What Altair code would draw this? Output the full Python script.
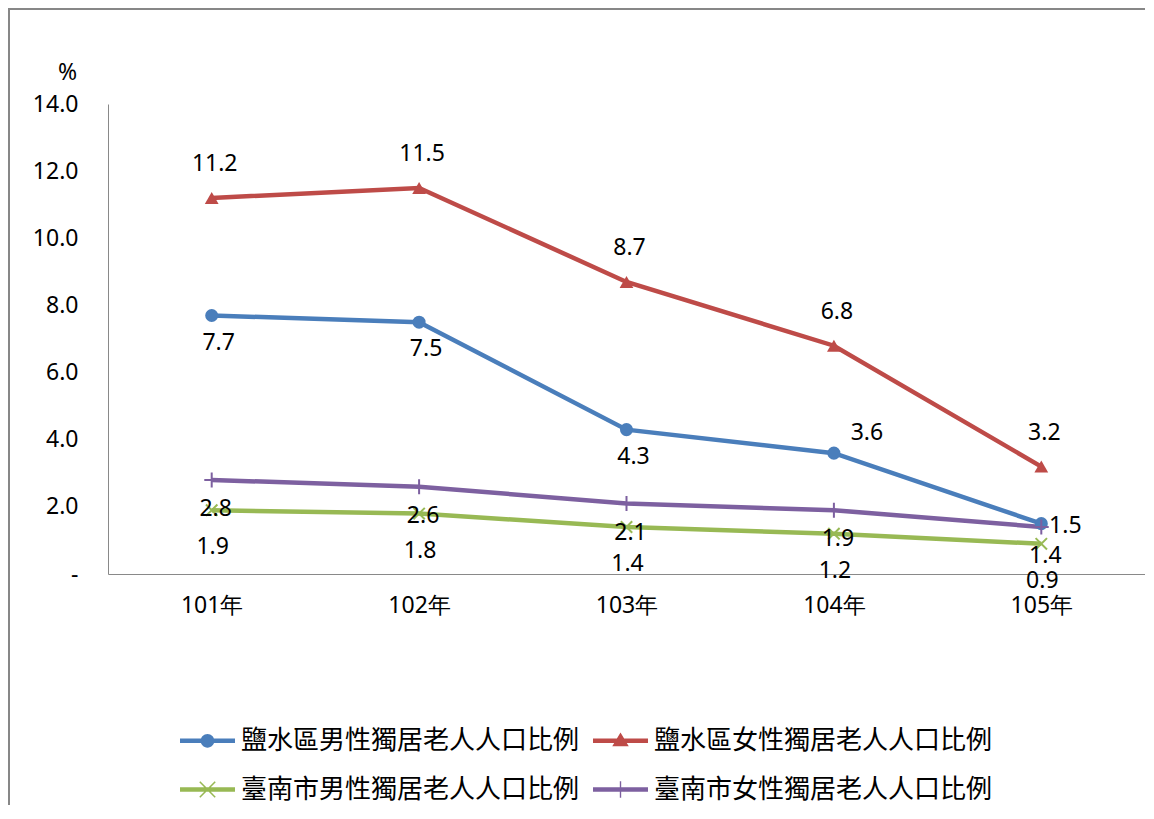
import altair as alt
import pandas as pd

# ---- data ----
years = ["101年", "102年", "103年", "104年", "105年"]
series_names = [
    "鹽水區男性獨居老人人口比例",
    "鹽水區女性獨居老人人口比例",
    "臺南市男性獨居老人人口比例",
    "臺南市女性獨居老人人口比例",
]
yanshui_male = [7.7, 7.5, 4.3, 3.6, 1.5]
yanshui_female = [11.2, 11.5, 8.7, 6.8, 3.2]
tainan_male = [1.9, 1.8, 1.4, 1.2, 0.9]
tainan_female = [2.8, 2.6, 2.1, 1.9, 1.4]
y_ticks = [0, 2, 4, 6, 8, 10, 12, 14]

colors = ["#4A7EBB", "#BE4B48", "#98B954", "#7D60A0"]

rows = []
for name, vals in zip(series_names, [yanshui_male, yanshui_female, tainan_male, tainan_female]):
    for yr, v in zip(years, vals):
        rows.append({"year": yr, "series": name, "value": v})
df = pd.DataFrame(rows)

FONT = "Noto Sans"
CJK = "Noto Sans CJK TC"
TXT = 23
NBSP = "\u00a0"

# legend symbols: a line segment with the series marker (unit square paths)
line_part = "M-1,-0.085L1,-0.085L1,0.085L-1,0.085Z"
legend_paths = [
    line_part + "M0.25,0A0.25,0.25 0 1,1 -0.25,0A0.25,0.25 0 1,1 0.25,0Z",
    line_part + "M0,-0.3L0.3,0.2L-0.3,0.2Z",
    line_part + "M-0.3,-0.26L-0.26,-0.3L0.3,0.26L0.26,0.3Z"
    + "M0.26,-0.3L0.3,-0.26L-0.26,0.3L-0.3,0.26Z",
    line_part + "M-0.025,-0.3L0.025,-0.3L0.025,0.3L-0.025,0.3Z",
]

x_enc = alt.X(
    "year:N",
    sort=years,
    scale=alt.Scale(type="point", padding=0.5),
    axis=alt.Axis(title=None, labelAngle=0, labelPadding=20, ticks=False),
)
y_enc = alt.Y(
    "value:Q",
    scale=alt.Scale(domain=[0, 14], nice=False, zero=True),
    axis=alt.Axis(
        values=y_ticks,
        labelExpr="datum.value == 0 ? '-" + NBSP + NBSP + "' : format(datum.value, '.1f')",
        labelPadding=30,
        ticks=False,
        title="%",
        titleAngle=0,
        titleX=-41,
        titleY=-32,
        titleAlign="center",
        titleBaseline="middle",
        titleFont=FONT,
        titleFontSize=TXT,
        titleFontWeight="normal",
        titleColor="#000",
    ),
)

base = alt.Chart(df).encode(x=x_enc, y=y_enc)

legend_opts = dict(
    title=None,
    orient="none",
    direction="horizontal",
    legendX=72,
    legendY=609,
    columns=2,
    columnPadding=13,
    rowPadding=8,
    symbolSize=3025,
    symbolStrokeWidth=0,
    labelFont=CJK,
    labelFontSize=26,
    labelColor="#000",
    labelLimit=600,
    labelOffset=6,
)

legend_layer = (
    alt.Chart(df)
    .transform_filter("datum.value < 0")
    .mark_point(filled=True, opacity=1)
    .encode(
        x=x_enc,
        y=y_enc,
        color=alt.Color(
            "series:N",
            scale=alt.Scale(domain=series_names, range=colors),
            legend=alt.Legend(**legend_opts),
        ),
        shape=alt.Shape(
            "series:N",
            scale=alt.Scale(domain=series_names, range=legend_paths),
            legend=alt.Legend(**legend_opts),
        ),
    )
)


def sel(name):
    return base.transform_filter(alt.datum.series == name)


line_layers = [
    sel(n).mark_line(strokeWidth=4.5, color=c) for n, c in zip(series_names, colors)
]

m_blue = sel(series_names[0]).mark_point(
    shape="circle", filled=True, size=170, color=colors[0], opacity=1
)
m_red = sel(series_names[1]).mark_point(
    shape="triangle-up", filled=True, size=190, color=colors[1], opacity=1
)
m_green = sel(series_names[2]).mark_point(
    shape="M-1,-1L1,1M-1,1L1,-1", filled=False, size=130, color=colors[2],
    strokeWidth=2, opacity=1
)
m_purple = sel(series_names[3]).mark_point(
    shape="M0,-1L0,1M-1,0L1,0", filled=False, size=220, color=colors[3],
    strokeWidth=2, opacity=1
)


def labels(name, dx, dy, yrs=None):
    c = sel(name)
    if yrs is not None:
        c = c.transform_filter(alt.FieldOneOfPredicate(field="year", oneOf=yrs))
    return c.mark_text(
        dx=dx, dy=dy, font=FONT, fontSize=TXT, color="#000"
    ).encode(text=alt.Text("value:Q", format=".1f"))


t_blue_a = labels(series_names[0], 7, 27, ["101年", "102年", "103年"])
t_blue_b = labels(series_names[0], 33, -20, ["104年"])
t_blue_c = labels(series_names[0], 24, 2, ["105年"])
t_red = labels(series_names[1], 3, -34)
t_green = labels(series_names[2], 1, 37)
t_purple = labels(series_names[3], 4, 29)

frame_df = pd.DataFrame({"k": [0]})
frame_top = alt.Chart(frame_df).mark_rule(color="#878787", strokeWidth=2).encode(
    x=alt.value(-100), x2=alt.value(1037), y=alt.value(-95)
)
frame_left = alt.Chart(frame_df).mark_rule(color="#878787", strokeWidth=2).encode(
    x=alt.value(-99), y=alt.value(-96), y2=alt.value(710)
)

chart = (
    alt.layer(
        frame_top, frame_left,
        *line_layers, legend_layer,
        m_blue, m_red, m_green, m_purple,
        t_blue_a, t_blue_b, t_blue_c, t_red, t_green, t_purple,
    )
    .properties(
        width=1037,
        height=470,
        autosize=alt.AutoSizeParams(type="none"),
        padding={"left": 100, "top": 96, "right": 0, "bottom": 231},
        background="white",
    )
    .configure_view(stroke=None)
    .configure_axis(
        grid=False,
        domainColor="#898989",
        domainWidth=1,
        labelFont=FONT,
        labelFontSize=TXT,
        labelColor="#000",
    )
)

chart.save("out.html", embed_options={"renderer": "svg", "actions": False})
